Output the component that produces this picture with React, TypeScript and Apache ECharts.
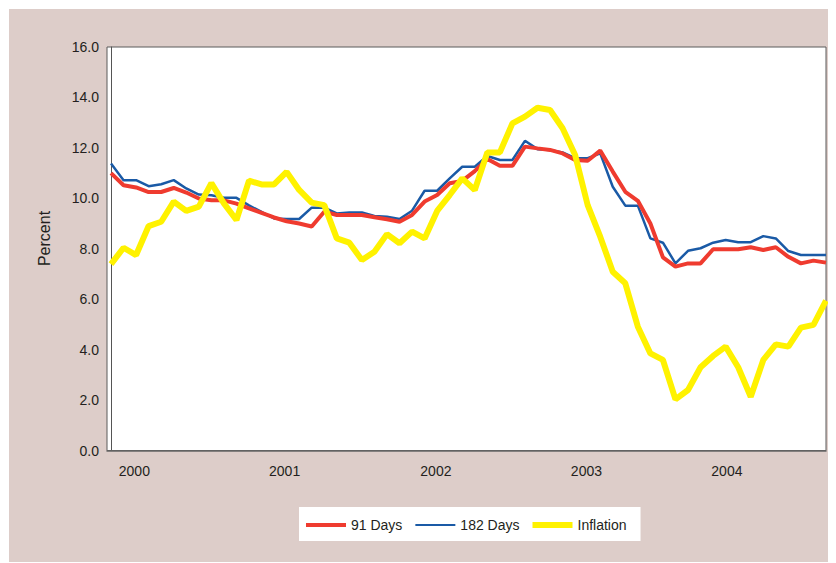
import React, { useEffect, useRef } from "react";
import * as echarts from "echarts";

const YEAR_LABELS = ["2000", "2001", "2002", "2003", "2004"];
const YEAR_LABEL_AT = [1.86, 13.84, 25.9, 37.9, 49.1];

const T91 = [
  11.0, 10.52, 10.43, 10.25, 10.25, 10.41, 10.23, 9.99, 9.92, 9.92,
  9.79, 9.6, 9.42, 9.24, 9.09, 9.0, 8.88, 9.47, 9.34, 9.34,
  9.34, 9.25, 9.17, 9.07, 9.34, 9.87, 10.13, 10.6, 10.69, 11.08,
  11.56, 11.29, 11.29, 12.05, 11.98, 11.92, 11.78, 11.52, 11.49, 11.89,
  11.06, 10.26, 9.9, 9.0, 7.66, 7.29, 7.42, 7.42, 7.98, 7.98,
  7.98, 8.06, 7.95, 8.06, 7.68, 7.42, 7.53, 7.45,
];

const T182 = [
  11.38, 10.72, 10.72, 10.48, 10.56, 10.72, 10.39, 10.15, 10.12, 10.02,
  10.02, 9.72, 9.46, 9.2, 9.18, 9.18, 9.63, 9.63, 9.4, 9.44,
  9.44, 9.3, 9.27, 9.18, 9.51, 10.3, 10.3, 10.79, 11.25, 11.25,
  11.68, 11.52, 11.52, 12.28, 11.95, 11.92, 11.82, 11.59, 11.59, 11.78,
  10.46, 9.71, 9.71, 8.41, 8.24, 7.42, 7.92, 8.02, 8.24, 8.35,
  8.26, 8.26, 8.5, 8.41, 7.91, 7.75, 7.75, 7.75,
];

const INFLATION = [
  7.39, 8.04, 7.75, 8.9, 9.07, 9.87, 9.5, 9.67, 10.6, 9.8,
  9.14, 10.7, 10.55, 10.55, 11.05, 10.33, 9.83, 9.73, 8.41, 8.24,
  7.55, 7.88, 8.58, 8.22, 8.68, 8.41, 9.5, 10.13, 10.79, 10.33,
  11.82, 11.82, 12.97, 13.24, 13.59, 13.5, 12.78, 11.72, 9.73, 8.48,
  7.09, 6.63, 4.91, 3.85, 3.59, 2.03, 2.4, 3.3, 3.75, 4.12,
  3.3, 2.13, 3.59, 4.21, 4.12, 4.87, 4.98, 5.94,
];

const SERIES_NAMES = ["91 Days", "182 Days", "Inflation"];
const Y_AXIS_TITLE = "Percent";

const FONT = "'Liberation Sans', Arial, sans-serif";
const TEXT = "#231f20";
const RED = "#ef3b2f";
const BLUE = "#1a5aa6";
const YELLOW = "#fff200";

// legend line icons: a 40x14 box holding a centred bar of the given thickness
const barIcon = (h: number) =>
  `path://M0,0M40,14M0,${7 - h / 2}H40V${7 + h / 2}H0Z`;

export default function App() {
  const ref = useRef<HTMLDivElement>(null);

  useEffect(() => {
    if (!ref.current) return;
    const chart = echarts.init(ref.current, null, { renderer: "svg" });
    const toXY = (arr: number[]) => arr.map((v, i) => [i, v]);
    const yearFor = (v: number) => {
      let best = -1;
      let bd = Infinity;
      YEAR_LABEL_AT.forEach((p, i) => {
        const d = Math.abs(p - v);
        if (d < bd) { bd = d; best = i; }
      });
      return bd < 0.01 ? YEAR_LABELS[best] : "";
    };

    chart.setOption({
      animation: false,
      backgroundColor: "#ddcdc9",
      grid: {
        left: 98,
        top: 38,
        right: 10,
        bottom: 112.5,
        show: true,
        backgroundColor: "#ffffff",
        borderColor: "#5a5a5a",
        borderWidth: 1,
      },
      xAxis: {
        type: "value",
        min: -0.32,
        max: 57,
        splitLine: { show: false },
        axisTick: { show: false },
        axisLine: { show: true, onZero: false, lineStyle: { color: "#666", width: 1.5 } },
        axisLabel: {
          customValues: YEAR_LABEL_AT,
          formatter: (v: number) => yearFor(v),
          margin: 13,
          color: TEXT,
          fontSize: 14,
          fontFamily: FONT,
        },
      },
      yAxis: {
        type: "value",
        min: 0,
        max: 16,
        interval: 2,
        splitLine: { show: false },
        axisTick: { show: false },
        axisLine: { show: true, lineStyle: { color: "#555", width: 1 } },
        axisLabel: {
          formatter: (v: number) => v.toFixed(1),
          margin: 8,
          color: TEXT,
          fontSize: 14,
          fontFamily: FONT,
        },
      },
      legend: {
        left: 290,
        top: 498,
        orient: "horizontal",
        backgroundColor: "#ffffff",
        padding: [11, 14, 9, 7],
        itemWidth: 40,
        itemHeight: 14,
        itemGap: 13,
        itemStyle: { borderWidth: 0 },
        textStyle: { fontSize: 14, fontFamily: FONT, color: TEXT },
        data: [
          { name: SERIES_NAMES[0], icon: barIcon(4), itemStyle: { color: RED } },
          { name: SERIES_NAMES[1], icon: barIcon(2), itemStyle: { color: BLUE } },
          { name: SERIES_NAMES[2], icon: barIcon(6), itemStyle: { color: YELLOW } },
        ],
      },
      graphic: [
        {
          type: "text",
          x: 35,
          y: 229.5,
          rotation: Math.PI / 2,
          style: {
            text: Y_AXIS_TITLE,
            fontSize: 16,
            fontFamily: FONT,
            fill: TEXT,
            align: "center",
            verticalAlign: "middle",
          },
        },
      ],
      series: [
        {
          name: SERIES_NAMES[0],
          type: "line",
          data: toXY(T91),
          symbol: "none",
          z: 3,
          itemStyle: { color: RED },
          lineStyle: { color: RED, width: 4 },
        },
        {
          name: SERIES_NAMES[1],
          type: "line",
          data: toXY(T182),
          symbol: "none",
          z: 2,
          itemStyle: { color: BLUE },
          lineStyle: { color: BLUE, width: 2.5 },
        },
        {
          name: SERIES_NAMES[2],
          type: "line",
          data: toXY(INFLATION),
          symbol: "none",
          z: 4,
          itemStyle: { color: YELLOW },
          lineStyle: { color: YELLOW, width: 6 },
        },
      ],
    });

    return () => chart.dispose();
  }, []);

  return (
    <div
      ref={ref}
      style={{ position: "relative", left: 1, top: 1, width: 827, height: 554 }}
    />
  );
}
